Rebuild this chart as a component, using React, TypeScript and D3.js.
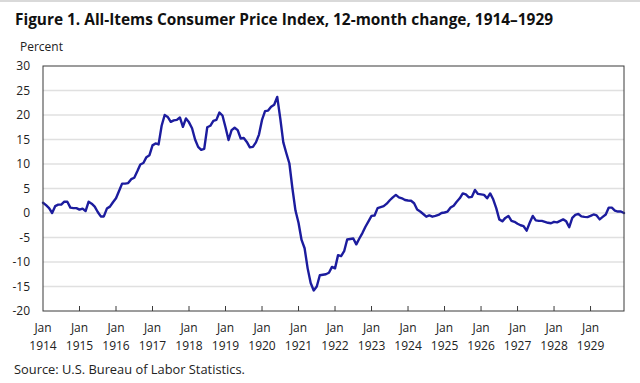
import React from "react";
import * as d3 from "d3";

const title = "Figure 1. All-Items Consumer Price Index, 12-month change, 1914–1929";
const yLabel = "Percent";
const source = "Source: U.S. Bureau of Labor Statistics.";
const startYear = 1914;
const yTicks = [30, 25, 20, 15, 10, 5, 0, -5, -10, -15, -20];
const tickYears = [1914, 1915, 1916, 1917, 1918, 1919, 1920, 1921, 1922, 1923, 1924, 1925, 1926, 1927, 1928, 1929];

const v1914 = [2.1, 1.6, 1.0, 0.0, 1.4, 1.7, 1.7, 2.3, 2.3, 1.1, 1.0, 1.0];
const v1915 = [0.7, 0.9, 0.4, 2.3, 1.9, 1.3, 0.2, -0.7, -0.7, 0.9, 1.3, 2.2];
const v1916 = [3.0, 4.5, 6.0, 6.0, 6.1, 6.9, 7.2, 8.5, 9.9, 10.2, 11.4, 11.8];
const v1917 = [13.8, 14.2, 14.0, 17.8, 20.0, 19.6, 18.6, 18.9, 19.0, 19.5, 17.6, 19.3];
const v1918 = [18.5, 17.3, 15.0, 13.5, 12.9, 13.1, 17.5, 17.8, 18.8, 19.0, 20.5, 19.9];
const v1919 = [17.5, 14.9, 16.9, 17.4, 16.9, 15.2, 15.3, 14.5, 13.4, 13.5, 14.4, 16.0];
const v1920 = [19.0, 20.8, 20.9, 21.7, 22.1, 23.7, 19.3, 14.4, 12.2, 10.1, 5.0, 0.5];
const v1921 = [-2.0, -5.5, -7.2, -11.3, -14.3, -15.8, -15.0, -12.7, -12.6, -12.5, -12.2, -11.0];
const v1922 = [-11.3, -8.6, -8.8, -7.8, -5.4, -5.3, -5.2, -6.4, -5.2, -4.1, -2.8, -1.7];
const v1923 = [-0.6, -0.5, 1.0, 1.2, 1.4, 1.9, 2.6, 3.2, 3.7, 3.2, 3.0, 2.65];
const v1924 = [2.55, 2.5, 2.0, 0.7, 0.3, -0.2, -0.75, -0.5, -0.75, -0.6, -0.4, 0.0];
const v1925 = [0.1, 0.3, 1.1, 1.5, 2.3, 3.0, 4.0, 3.8, 3.2, 3.3, 4.7, 3.9];
const v1926 = [3.8, 3.7, 3.0, 4.0, 2.8, 1.0, -1.3, -1.7, -1.0, -0.6, -1.6, -1.8];
const v1927 = [-2.2, -2.5, -2.7, -3.6, -2.0, -0.6, -1.5, -1.6, -1.6, -1.8, -2.0, -2.1];
const v1928 = [-1.8, -1.9, -1.6, -1.3, -1.7, -2.9, -1.0, -0.4, -0.2, -0.7, -0.8, -0.85];
const v1929 = [-0.6, -0.3, -0.5, -1.3, -0.8, -0.3, 1.1, 1.1, 0.5, 0.3, 0.3, 0.0];

const values = [
  ...v1914, ...v1915, ...v1916, ...v1917, ...v1918, ...v1919, ...v1920, ...v1921,
  ...v1922, ...v1923, ...v1924, ...v1925, ...v1926, ...v1927, ...v1928, ...v1929,
];

const W = 640;
const H = 383;
const font = "'Open Sans', 'DejaVu Sans', sans-serif";

export default function App() {
  const x = d3.scaleLinear().domain([0, values.length - 1]).range([43, 624]);
  const y = d3.scaleLinear().domain([-20, 30]).range([311, 66]);
  const line = d3
    .line<number>()
    .x((_, i) => x(i))
    .y((d) => y(d))
    .curve(d3.curveLinear);

  const [x0, x1] = x.range();
  const [yb, yt] = y.range();

  return (
    <svg
      width={W}
      height={H}
      style={{ position: "absolute", left: 0, top: 0, background: "#fff" }}
    >
      <rect x={0} y={0} width={W} height={2} fill="#d9d9d9" />
      <text
        x={15}
        y={25}
        fontFamily={font}
        fontWeight="bold"
        fontSize={16}
        fill="#111"
        textLength={538}
        lengthAdjust="spacingAndGlyphs"
      >
        {title}
      </text>
      <text x={20} y={51} fontFamily={font} fontSize={12} fill="#222">
        {yLabel}
      </text>

      {yTicks.map((t) => (
        <g key={t}>
          {t !== 30 && t !== -20 && (
            <line x1={x0} x2={x1} y1={y(t)} y2={y(t)} stroke="#e0e0e0" strokeWidth={1.7} />
          )}
          <text
            x={30}
            y={y(t)}
            dy="0.35em"
            textAnchor="end"
            fontFamily={font}
            fontSize={12}
            fill="#222"
          >
            {t}
          </text>
        </g>
      ))}

      <path
        d={line(values) ?? ""}
        fill="none"
        stroke="#1c1c9e"
        strokeWidth={2.4}
        strokeLinejoin="round"
        strokeLinecap="round"
      />

      <rect
        x={x0}
        y={yt}
        width={x1 - x0}
        height={yb - yt}
        fill="none"
        stroke="#3a3a3a"
        strokeWidth={1}
      />

      {tickYears.map((yr) => {
        const i = (yr - startYear) * 12;
        const cx = x(i);
        return (
          <g key={yr}>
            {i > 0 && <line x1={cx} x2={cx} y1={yb} y2={yb - 5} stroke="#3a3a3a" strokeWidth={1} />}
            <text x={cx} y={332} textAnchor="middle" fontFamily={font} fontSize={12} fill="#222">
              Jan
            </text>
            <text x={cx} y={350} textAnchor="middle" fontFamily={font} fontSize={12} fill="#222">
              {yr}
            </text>
          </g>
        );
      })}

      <text
        x={14}
        y={374}
        fontFamily={font}
        fontSize={12}
        fill="#222"
        textLength={231}
        lengthAdjust="spacingAndGlyphs"
      >
        {source}
      </text>
    </svg>
  );
}
